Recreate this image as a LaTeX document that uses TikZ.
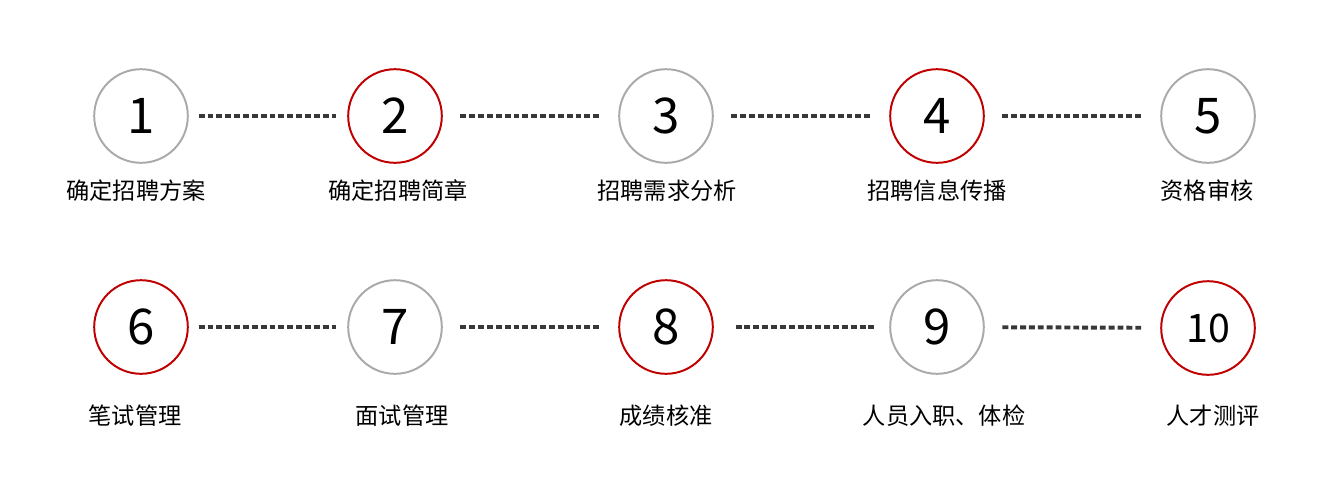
\documentclass[tikz,border=0pt]{standalone}
\usepackage{fontspec}
\setmainfont{Noto Sans CJK SC}
\newfontfamily\cjk{Noto Sans CJK SC}
\definecolor{ringgray}{HTML}{AAAAAA}
\definecolor{ringred}{HTML}{C00000}
\definecolor{dotgray}{HTML}{383838}
\tikzset{
  stepring/.style={circle,draw=#1,line width=1.4pt,minimum size=2.34cm,inner sep=0pt,font=\cjk\fontsize{35}{37}\selectfont},
  steplabel/.style={inner sep=0pt,font=\cjk\fontsize{16.5}{18}\selectfont},
  dotline/.style={draw=dotgray,line width=2.8pt,dash pattern=on 4.2pt off 2.1pt,shorten <=7pt,shorten >=8pt},
  dotlong/.style={dotline,shorten <=12.5pt,shorten >=13.5pt}
}
\begin{document}
\begin{tikzpicture}[x=0.025cm,y=-0.025cm]
\useasboundingbox (0,0) rectangle (1327,502);
% first row
\node[stepring=ringgray] (s1) at (141,116) {1};
\node[stepring=ringred] (s2) at (395,116) {2};
\node[stepring=ringgray] (s3) at (666,116) {3};
\node[stepring=ringred] (s4) at (937,116) {4};
\node[stepring=ringgray] (s5) at (1208,116) {5};
\node[steplabel] (l1) at (136,191) {确定招聘方案};
\node[steplabel] (l2) at (398,191) {确定招聘简章};
\node[steplabel] (l3) at (667,191) {招聘需求分析};
\node[steplabel] (l4) at (937,191) {招聘信息传播};
\node[steplabel] (l5) at (1207,191) {资格审核};
\draw[dotline] (s1) -- (s2);
\draw[dotlong] (s2) -- (s3);
\draw[dotlong] (s3) -- (s4);
\draw[dotlong] (s4) -- (s5);
% second row
\node[stepring=ringred] (s6) at (141,327) {6};
\node[stepring=ringgray] (s7) at (395,327) {7};
\node[stepring=ringred] (s8) at (666,327) {8};
\node[stepring=ringgray] (s9) at (937,327) {9};
\node[stepring=ringred,font=\cjk\fontsize{28}{30}\selectfont] (s10) at (1208,328) {10};
\node[steplabel] (l6) at (135,416) {笔试管理};
\node[steplabel] (l7) at (402,416) {面试管理};
\node[steplabel] (l8) at (666,416) {成绩核准};
\node[steplabel] (l9) at (944,416) {人员入职、体检};
\node[steplabel] (l10) at (1213,416) {人才测评};
\draw[dotline] (s6) -- (s7);
\draw[dotlong] (s7) -- (s8);
\draw[dotline,shorten <=15.5pt,shorten >=10pt] (s8) -- (s9);
\draw[dotlong] (s9) -- (s10);
\end{tikzpicture}
\end{document}
